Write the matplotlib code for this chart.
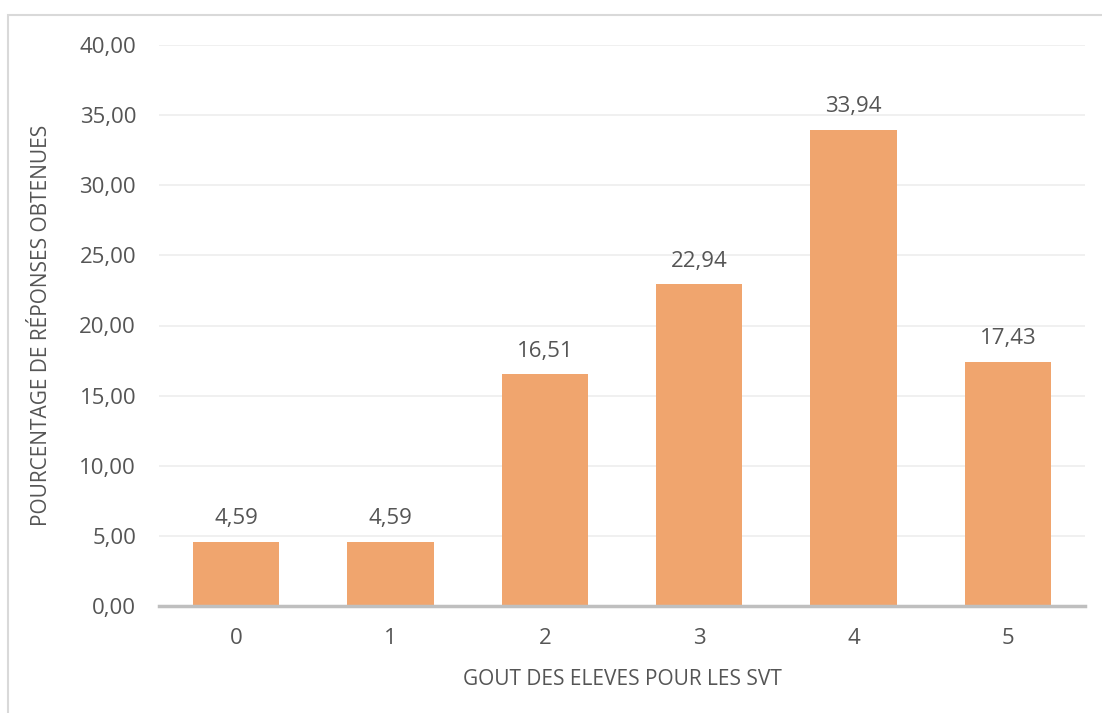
import matplotlib
matplotlib.use("Agg")
import matplotlib.pyplot as plt
from matplotlib.patches import Rectangle

categories = ["0", "1", "2", "3", "4", "5"]
values = [4.59, 4.59, 16.51, 22.94, 33.94, 17.43]
yticks = [0, 5, 10, 15, 20, 25, 30, 35, 40]

plt.rcParams['font.family'] = ['Open Sans', 'DejaVu Sans']
txt = '#555555'

fig = plt.figure(figsize=(11.02, 7.13), dpi=100)
fig.patches.append(Rectangle((8/1102, -0.1), 1.2, 1 - 15/713 + 0.1, transform=fig.transFigure,
                             fill=False, edgecolor='#D9D9D9', linewidth=1.5))
ax = fig.add_axes([159/1102, 1 - 606/713, (1085 - 159)/1102, (606 - 45)/713])

x = list(range(len(categories)))
bars = ax.bar(x, values, width=0.56, color='#F0A56E', zorder=2)
ax.set_xlim(-0.5, len(categories) - 0.5)
ax.set_ylim(0, 40)
ax.set_yticks(yticks)
ax.set_yticklabels([f"{v:.2f}".replace('.', ',') for v in yticks])
ax.set_xticks(x)
ax.set_xticklabels(categories)
ax.grid(axis='y', color='#EDEDED', linewidth=1.2, zorder=0)
ax.set_axisbelow(True)
for s in ['top', 'right', 'left']:
    ax.spines[s].set_visible(False)
ax.spines['bottom'].set_color('#BFBFBF')
ax.spines['bottom'].set_linewidth(2.5)
ax.spines['bottom'].set_zorder(3)
ax.tick_params(axis='both', length=0, labelsize=16, colors=txt)
ax.tick_params(axis='y', pad=16.5)
ax.tick_params(axis='x', pad=16)

for xi, v in zip(x, values):
    ax.annotate(f"{v:.2f}".replace('.', ','), (xi, v), xytext=(0, 9), textcoords='offset points',
                ha='center', va='bottom', fontsize=16, color=txt)

ax.set_xlabel("GOUT DES ELEVES POUR LES SVT", fontsize=15, color=txt, labelpad=14)
ax.set_ylabel("POURCENTAGE DE RÉPONSES OBTENUES", fontsize=15, color=txt, labelpad=20)

fig.savefig("out.png", dpi=100)
